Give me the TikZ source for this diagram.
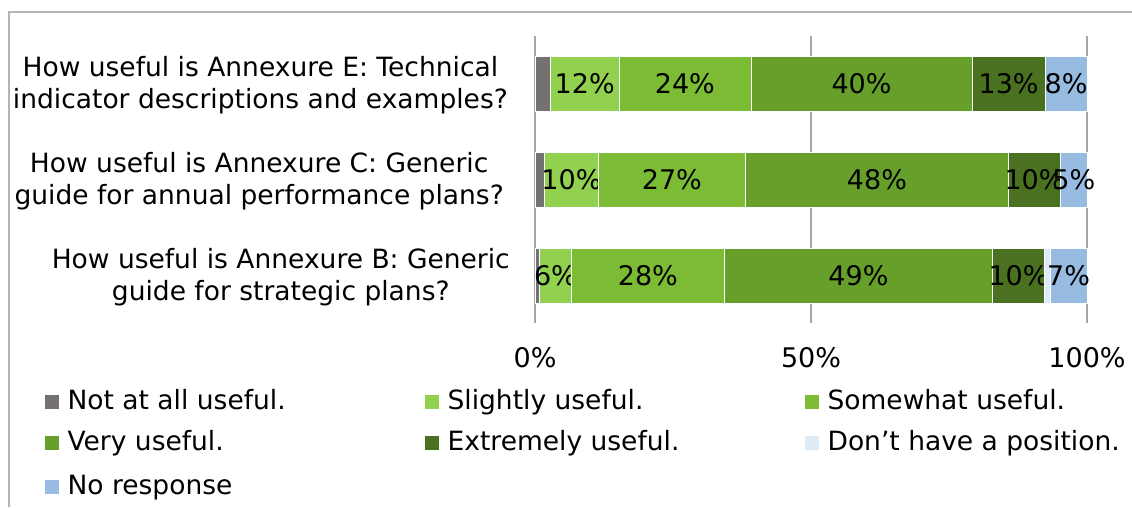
\documentclass[tikz,border=0pt]{standalone}
\usepackage{fontspec}
\setmainfont{DejaVu Sans}
\usetikzlibrary{positioning}

\definecolor{notatall}{HTML}{767171}
\definecolor{slightly}{HTML}{92D050}
\definecolor{somewhat}{HTML}{7CBB34}
\definecolor{very}{HTML}{679F2B}
\definecolor{extremely}{HTML}{4A7120}
\definecolor{noposition}{HTML}{DDEBF7}
\definecolor{noresp}{HTML}{98BBE1}
\definecolor{gridgray}{HTML}{A6A6A6}
\definecolor{framegray}{HTML}{B4B4B4}

\begin{document}
\begin{tikzpicture}[
    x=1pt,y=-1pt,
    frame/.style={draw=framegray,line width=1.4pt},
    gridline/.style={draw=gridgray,line width=1.4pt},
    seg/.style={draw=white,line width=0.5pt},
    pct/.style={font=\fontsize{27}{32}\selectfont,inner sep=0pt},
    question/.style={font=\fontsize{26.5}{32}\selectfont,align=center,anchor=east,inner sep=0pt},
    keybox/.style={minimum size=14pt,inner sep=0pt,anchor=west},
    keytext/.style={font=\fontsize{26.5}{30}\selectfont,inner sep=0pt,text height=19.5pt,text depth=5.5pt}
  ]
    \useasboundingbox (0,0) rectangle (1132,507);
    \draw[frame] (1132,12) -- (9,12) -- (9,507);

    % grid
    \foreach \p in {0,50,100}
      \draw[gridline] (535+5.52*\p,36) -- (535+5.52*\p,323);

    % Annexure E
    \foreach \a/\b/\col/\txt [count=\i] in {0/2.8/notatall/{}, 2.8/15.2/slightly/12\%, 15.2/39.1/somewhat/24\%, 39.1/79.2/very/40\%, 79.2/92.4/extremely/13\%, 92.4/100/noresp/8\%}{
      \filldraw[\col,seg] (535+5.52*\a,56) rectangle (535+5.52*\b,111);
      \node[pct] (e\i) at (535+2.76*\a+2.76*\b,83.5) {\txt};
    }
    % Annexure C
    \foreach \a/\b/\col/\txt [count=\i] in {0/1.7/notatall/{}, 1.7/11.5/slightly/10\%, 11.5/38.1/somewhat/27\%, 38.1/85.8/very/48\%, 85.8/95.2/extremely/10\%, 95.2/100/noresp/5\%}{
      \filldraw[\col,seg] (535+5.52*\a,152.5) rectangle (535+5.52*\b,207.5);
      \node[pct] (c\i) at (535+2.76*\a+2.76*\b,180) {\txt};
    }
    % Annexure B
    \foreach \a/\b/\col/\txt [count=\i] in {0/0.8/notatall/{}, 0.8/6.6/slightly/6\%, 6.6/34.3/somewhat/28\%, 34.3/82.9/very/49\%, 82.9/92.3/extremely/10\%, 92.3/93.3/noposition/{}, 93.3/100/noresp/7\%}{
      \filldraw[\col,seg] (535+5.52*\a,248) rectangle (535+5.52*\b,303);
      \node[pct] (b\i) at (535+2.76*\a+2.76*\b,275.5) {\txt};
    }

    % questions
    \node[question] (qe) at (508,85) {How useful is Annexure E: Technical\\indicator descriptions and examples?};
    \node[question] (qc) at (504,181) {How useful is Annexure C: Generic\\guide for annual performance plans?};
    \node[question] (qb) at (510,277) {How useful is Annexure B: Generic\\guide for strategic plans?};

    % axis
    \node[pct] (t0) at (535,358) {0\%};
    \node[pct] (t50) at (811,358) {50\%};
    \node[pct] (t100) at (1087,358) {100\%};

    % legend
    \foreach \col/\txt/\x/\y [count=\i] in {notatall/Not at all useful./45/402, slightly/Slightly useful./425/402, somewhat/Somewhat useful./805/402, very/Very useful./45/443, extremely/Extremely useful./425/443, noposition/Don’t have a position./805/443, noresp/No response/45/487}{
      \node[keybox,fill=\col] (k\i) at (\x,\y) {};
      \node[keytext,right=8pt of k\i] (l\i) {\txt};
    }
\end{tikzpicture}
\end{document}
